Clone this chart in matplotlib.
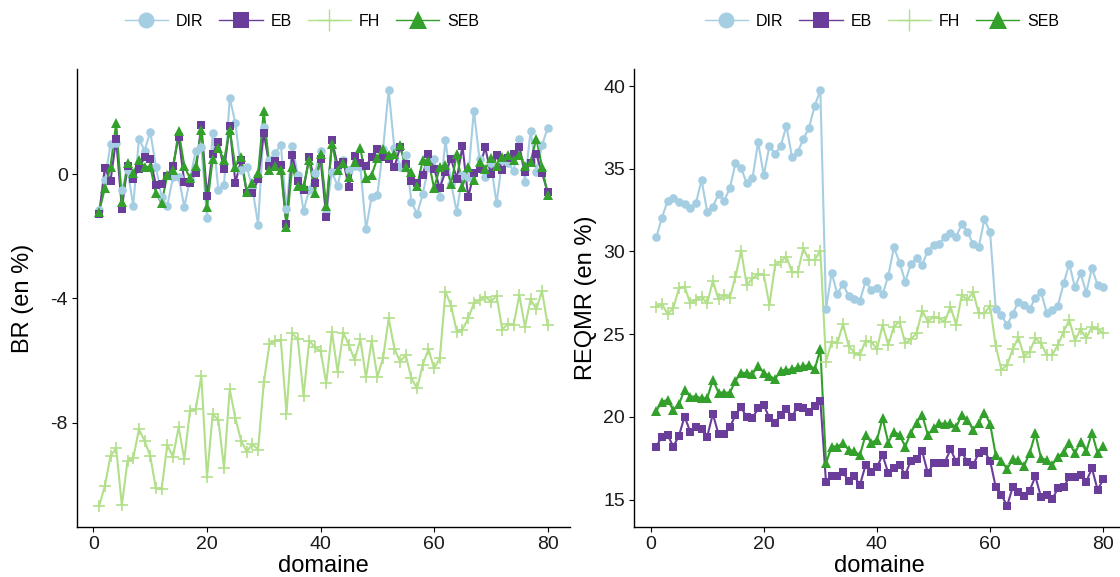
# -*- coding: utf-8 -*-
# BR and REQMR per domain, four estimators

import numpy as np
import matplotlib.pyplot as plt
from matplotlib.lines import Line2D

plt.rcParams['font.family'] = ['Liberation Sans', 'DejaVu Sans']
plt.rcParams['axes.unicode_minus'] = False

# Domains
domaine = np.arange(1, 81)

# BR (en %)
br_dir = [-1.16, -0.19, 0.95, 0.99, -0.51, 0.13, -1.02, 1.13, 0.75, 1.36,
          0.24, -0.75, -1.02, -0.11, -0.09, -1.05, -0.19, 0.74, 0.86, -1.41,
          1.33, -0.51, -0.35, 2.45, 1.63, 0.13, 0.24, -0.46, -1.63, 1.50,
          0.45, 0.69, 0.93, -1.14, 0.91, -0.03, -1.18, -0.51, 0.02, 0.75,
          -1.25, 0.08, -0.39, 0.45, 0.13, 0.26, 0.24, -1.77, -0.73, -0.68,
          0.79, 2.70, 0.83, 0.24, 0.61, -0.89, -1.29, -0.64, 0.24, 0.49,
          -0.73, 1.09, -0.32, -1.21, -0.03, -0.09, 2.04, 0.47, -0.09, 0.34,
          -0.94, 0.45, 0.36, 0.11, 1.11, -0.25, 1.39, 0.08, 0.92, 1.48]
br_eb = [-1.30, 0.20, -0.22, 1.13, -1.11, 0.26, -0.15, 0.17, 0.54, 0.48,
         -0.35, -0.32, -0.05, 0.26, 1.20, -0.26, -0.28, 0.04, 1.58, -0.70,
         0.64, 1.04, 0.15, 1.54, -0.28, 0.45, -0.60, -0.60, -0.17, 1.32,
         0.26, 0.43, 0.29, -1.61, 0.61, -0.21, -0.51, 0.56, -0.30, 0.48,
         -1.37, 1.09, 0.29, 0.40, -0.41, 0.58, 0.36, 0.26, 0.54, 0.79,
         0.56, 0.48, 0.21, 0.86, 0.32, -0.21, -0.28, -0.03, 0.64, 0.17,
         -0.45, 0.08, 0.48, -0.15, 0.90, -0.75, 0.02, 0.17, 0.86, 0.00,
         0.60, 0.13, 0.50, 0.64, 0.86, 0.06, 0.36, 0.64, 0.04, -0.57]
br_fh = [-10.67, -10.03, -9.07, -8.82, -10.65, -9.22, -9.14, -8.21, -8.57, -9.07,
         -10.11, -10.13, -8.71, -9.09, -8.14, -9.17, -7.62, -7.57, -6.50, -9.75,
         -7.72, -7.91, -9.46, -6.92, -7.86, -8.57, -8.93, -8.68, -8.87, -6.70,
         -5.47, -5.36, -5.34, -7.70, -5.12, -5.32, -7.13, -5.36, -5.57, -5.68,
         -6.73, -5.07, -6.35, -5.10, -5.50, -5.98, -5.32, -6.54, -5.36, -6.52,
         -5.93, -4.64, -5.61, -6.03, -5.82, -6.57, -6.89, -6.14, -5.63, -6.25,
         -5.93, -3.78, -4.24, -5.07, -5.00, -4.64, -4.16, -4.05, -3.94, -4.10,
         -3.91, -5.00, -4.82, -4.86, -3.89, -4.91, -4.03, -4.35, -3.75, -4.86]
br_seb = [-1.21, -0.46, 0.24, 1.63, -0.89, 0.36, 0.02, 0.45, 0.21, 0.24,
          -0.62, -0.94, -0.03, 0.13, 1.38, 0.26, -0.14, 0.26, 1.41, -1.05,
          0.49, 0.83, 0.45, 1.41, 0.24, 0.56, -0.57, -0.30, 0.02, 2.04,
          0.13, 0.26, 0.13, -1.69, 0.24, -0.39, -0.39, 0.45, -0.60, 0.64,
          -1.02, 0.96, 0.13, 0.34, -0.09, 0.40, 0.83, -0.14, -0.03, 0.50,
          0.79, 0.61, 0.64, 0.93, 0.21, 0.06, -0.39, 0.45, 0.43, -0.46,
          0.21, 0.29, -0.32, 0.64, -0.41, 0.21, -0.19, 0.40, 0.15, 0.50,
          0.26, 0.56, 0.61, 0.45, 0.61, 0.26, 0.40, 1.14, 0.24, -0.68]

# REQMR (en %)
rq_dir = [30.86, 32.04, 33.05, 33.21, 33.01, 32.87, 32.65, 32.91, 34.32, 32.41,
          32.71, 33.47, 33.07, 33.82, 35.33, 35.03, 34.12, 34.42, 36.60, 34.62,
          36.37, 35.89, 36.39, 37.58, 35.69, 36.01, 36.80, 37.48, 38.81, 39.76,
          26.53, 28.72, 27.43, 28.04, 27.31, 27.13, 27.03, 28.22, 27.67, 27.81,
          27.41, 28.52, 30.25, 29.33, 28.18, 29.24, 29.59, 29.20, 30.05, 30.39,
          30.47, 30.86, 31.14, 30.90, 31.66, 31.20, 30.43, 30.29, 31.94, 31.16,
          26.53, 26.16, 25.55, 26.22, 26.97, 26.77, 26.53, 27.17, 27.57, 26.30,
          26.47, 26.73, 28.08, 29.24, 27.83, 28.68, 27.51, 29.00, 27.96, 27.83]
rq_eb = [18.21, 18.81, 18.91, 18.21, 18.85, 20.02, 19.11, 19.36, 19.26, 18.81,
         20.18, 18.95, 18.95, 19.36, 20.12, 20.58, 19.98, 19.92, 20.52, 20.73,
         19.92, 19.66, 20.12, 20.48, 20.02, 20.62, 20.56, 20.32, 20.67, 20.99,
         16.05, 16.40, 16.40, 16.64, 16.13, 16.40, 15.89, 17.10, 16.64, 16.96,
         17.70, 16.60, 16.90, 17.10, 16.50, 17.36, 17.44, 17.91, 16.60, 17.20,
         17.24, 17.24, 18.05, 17.30, 17.85, 17.30, 17.10, 17.81, 17.91, 17.36,
         15.75, 15.29, 14.62, 15.75, 15.43, 15.19, 15.55, 16.40, 15.15, 15.29,
         15.03, 15.69, 15.75, 16.36, 16.36, 16.50, 16.09, 16.90, 15.59, 16.23]
rq_fh = [26.67, 26.83, 26.22, 26.57, 27.77, 27.88, 26.87, 27.07, 27.27, 26.87,
         28.22, 27.11, 27.37, 27.21, 28.48, 30.05, 27.96, 28.38, 28.64, 28.58,
         26.77, 29.18, 29.39, 29.69, 28.74, 28.74, 30.19, 29.49, 29.49, 30.05,
         23.34, 24.55, 24.45, 25.62, 24.29, 23.89, 23.75, 24.61, 24.55, 24.09,
         25.56, 24.35, 25.46, 25.76, 24.45, 24.69, 25.05, 26.42, 25.76, 26.06,
         25.96, 25.76, 26.67, 25.56, 27.37, 27.07, 27.57, 26.26, 26.26, 26.71,
         24.29, 22.84, 23.14, 24.09, 24.81, 23.65, 23.95, 24.75, 24.45, 23.75,
         23.75, 24.35, 25.16, 25.86, 24.61, 25.30, 24.75, 25.46, 25.30, 25.05]
rq_seb = [20.36, 20.92, 21.03, 20.42, 20.76, 21.63, 21.23, 21.23, 21.13, 21.13,
          22.24, 21.47, 21.47, 21.47, 22.18, 22.68, 22.64, 22.60, 23.05, 22.68,
          22.48, 22.28, 22.80, 22.84, 22.88, 23.00, 23.05, 23.15, 22.88, 24.09,
          17.20, 18.21, 18.21, 18.41, 18.01, 17.91, 17.70, 18.91, 18.45, 18.61,
          19.92, 18.45, 19.11, 18.91, 18.21, 19.05, 19.66, 20.12, 18.91, 19.32,
          19.62, 19.58, 19.62, 19.38, 20.12, 19.82, 19.22, 19.66, 20.26, 19.58,
          17.70, 17.34, 16.84, 17.44, 17.40, 17.04, 17.81, 19.01, 17.50, 17.40,
          17.10, 17.60, 17.85, 18.41, 17.81, 18.51, 17.91, 19.05, 17.81, 18.25]

names = ['DIR', 'EB', 'FH', 'SEB']
colors = ['#A6CEE3', '#6A3D9A', '#B2DF8A', '#33A02C']
markers = ['o', 's', '+', '^']
msizes = [6.2, 6.0, 9.0, 6.5]
leg_sizes = [11.5, 11.5, 16, 13.5]

fig = plt.figure(figsize=(11.2, 5.77), dpi=100)
ax1 = fig.add_axes([0.0685, 0.0872, 0.4405, 0.7928])
ax2 = fig.add_axes([0.566, 0.0872, 0.439, 0.7928])


def draw_panel(ax, series, ylabel, yticks, labelpad):
    # lines first, then points (as ggplot does)
    for s, c in zip(series, colors):
        ax.plot(domaine, s, color=c, lw=1.5, zorder=2)
    for s, c, m, ms in zip(series, colors, markers, msizes):
        ax.plot(domaine, s, ls='none', marker=m, ms=ms, color=c,
                mew=1.2 if m == '+' else 0, zorder=3)
    lo = min(min(s) for s in series)
    hi = max(max(s) for s in series)
    pad = 0.05 * (hi - lo)
    ax.set_ylim(lo - pad, hi + pad)
    ax.set_xlim(domaine[0] - 0.05 * (domaine[-1] - domaine[0]),
                domaine[-1] + 0.05 * (domaine[-1] - domaine[0]))
    ax.set_xticks([0, 20, 40, 60, 80])
    ax.set_yticks(yticks)
    ax.set_yticklabels([str(t) for t in yticks])
    for side in ['top', 'right']:
        ax.spines[side].set_visible(False)
    for side in ['left', 'bottom']:
        ax.spines[side].set_linewidth(1.0)
        ax.spines[side].set_color('black')
    ax.tick_params(direction='out', length=3.5, width=0.8, colors='black',
                   labelsize=14, labelcolor='#1a1a1a', pad=3)
    ax.set_xlabel('domaine', fontsize=17, labelpad=2)
    ax.set_ylabel(ylabel, fontsize=17, labelpad=labelpad)


draw_panel(ax1, [br_dir, br_eb, br_fh, br_seb], 'BR (en %)', [0, -4, -8], 12)
draw_panel(ax2, [rq_dir, rq_eb, rq_fh, rq_seb], 'REQMR (en %)', [15, 20, 25, 30, 35, 40], 4)

# Legends on top of each panel
handles = [Line2D([], [], color=c, lw=1.0, marker=m, ms=ls,
                  mew=1.0 if m == '+' else 0)
           for c, m, ls in zip(colors, markers, leg_sizes)]
for xc in [302 / 1120, 882 / 1120]:
    fig.legend(handles, names, loc='center', bbox_to_anchor=(xc, 1 - 21 / 577),
               ncol=4, frameon=False, fontsize=11.5, handlelength=2.7,
               handletextpad=0.5, columnspacing=1.0)

plt.savefig('out.png', dpi=100)
